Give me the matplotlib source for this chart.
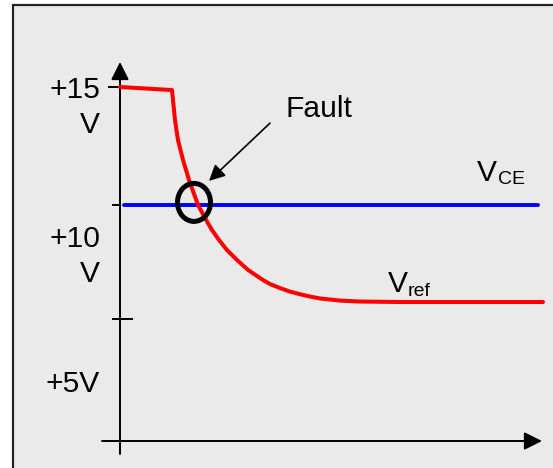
import matplotlib
matplotlib.use("Agg")
import matplotlib.pyplot as plt
from matplotlib.patches import Ellipse, Rectangle

# red curve: reference voltage Vref (time in arbitrary units, volts)
t_ref = [0.0, 5.2, 5.3, 5.5, 5.8, 6.3, 6.9, 7.8, 8.7, 9.2, 9.9, 10.7, 11.7,
         12.8, 14.3, 15.0, 16.0, 17.0, 18.0, 19.0, 20.0, 22.0, 24.0, 28.0, 42.3]
v_ref = [15.0, 14.87, 14.45, 13.60, 12.75, 11.91, 11.06, 10.0, 9.30, 8.94, 8.52,
         8.09, 7.67, 7.25, 6.82, 6.65, 6.48, 6.33, 6.22, 6.12, 6.04, 5.95, 5.91,
         5.89, 5.89]

# blue line: VCE
t_ce = [0.4, 41.8]
v_ce = [10.0, 10.0]

# y axis ticks and labels
tick_values = [15.0, 10.0, 5.17]
label_lines = ["+15", "V", "+10", "V", "+5V"]

# fault point
fault_t = 7.4
fault_v = 10.11

plt.rcParams["font.family"] = ["Liberation Sans", "DejaVu Sans"]

fig = plt.figure(figsize=(5.53, 4.68), dpi=100)
fig.patch.set_facecolor("white")
ax = fig.add_axes([0, 0, 1, 1])
ax.set_xlim(-12.0, 43.3)
ax.set_ylim(-1.144, 18.686)
ax.axis("off")

# grey panel with frame
ax.add_patch(Rectangle((-10.7, -3.0), 70, 21.475, facecolor="#eaeaea",
                       edgecolor="#222222", lw=1.6, clip_on=False, zorder=0))

# axes with arrows
arrow_style = dict(arrowstyle="-|>", mutation_scale=27, color="black",
                   lw=1.4, shrinkA=0, shrinkB=0)
ax.annotate("", xy=(0, 16.06), xytext=(0, -0.55), arrowprops=arrow_style)
ax.annotate("", xy=(42.2, 0), xytext=(-1.8, 0), arrowprops=arrow_style)

# ticks
tick_left = [-1.1, -0.7, -0.7]
tick_right = [0.0, 0.0, 1.2]
for v, a, b in zip(tick_values, tick_left, tick_right):
    ax.plot([a, b], [v, v], color="black", lw=1.4, zorder=2)

# y labels
label_pos = [14.53, 13.05, 8.22, 6.74, 2.08]
for txt, v in zip(label_lines, label_pos):
    ax.text(-2.0, v, txt, ha="right", va="baseline", fontsize=21.6)

# curves
ax.plot(t_ce, v_ce, color="#0000ff", lw=2.8, solid_capstyle="round", zorder=3)
ax.plot(t_ref, v_ref, color="#ff0000", lw=2.9, solid_joinstyle="round",
        solid_capstyle="round", zorder=4)

# fault marker
ax.add_patch(Ellipse((fault_t, fault_v), 3.3, 1.61, fill=False,
                     edgecolor="black", lw=3.6, zorder=5))
ax.annotate("", xy=(8.9, 11.02), xytext=(15.0, 13.47),
            arrowprops=dict(arrowstyle="-|>", mutation_scale=24, color="black",
                            lw=1.2, shrinkA=0, shrinkB=0))
ax.text(16.5, 13.73, "Fault", ha="left", va="baseline", fontsize=21.6)

# series labels
ax.text(35.7, 11.02, "V", ha="left", va="baseline", fontsize=21.6)
ax.text(37.8, 10.89, "CE", ha="left", va="baseline", fontsize=14)
ax.text(26.8, 6.31, "V", ha="left", va="baseline", fontsize=21.6)
ax.text(28.8, 6.14, "ref", ha="left", va="baseline", fontsize=14)

fig.savefig("out.png", dpi=100)
